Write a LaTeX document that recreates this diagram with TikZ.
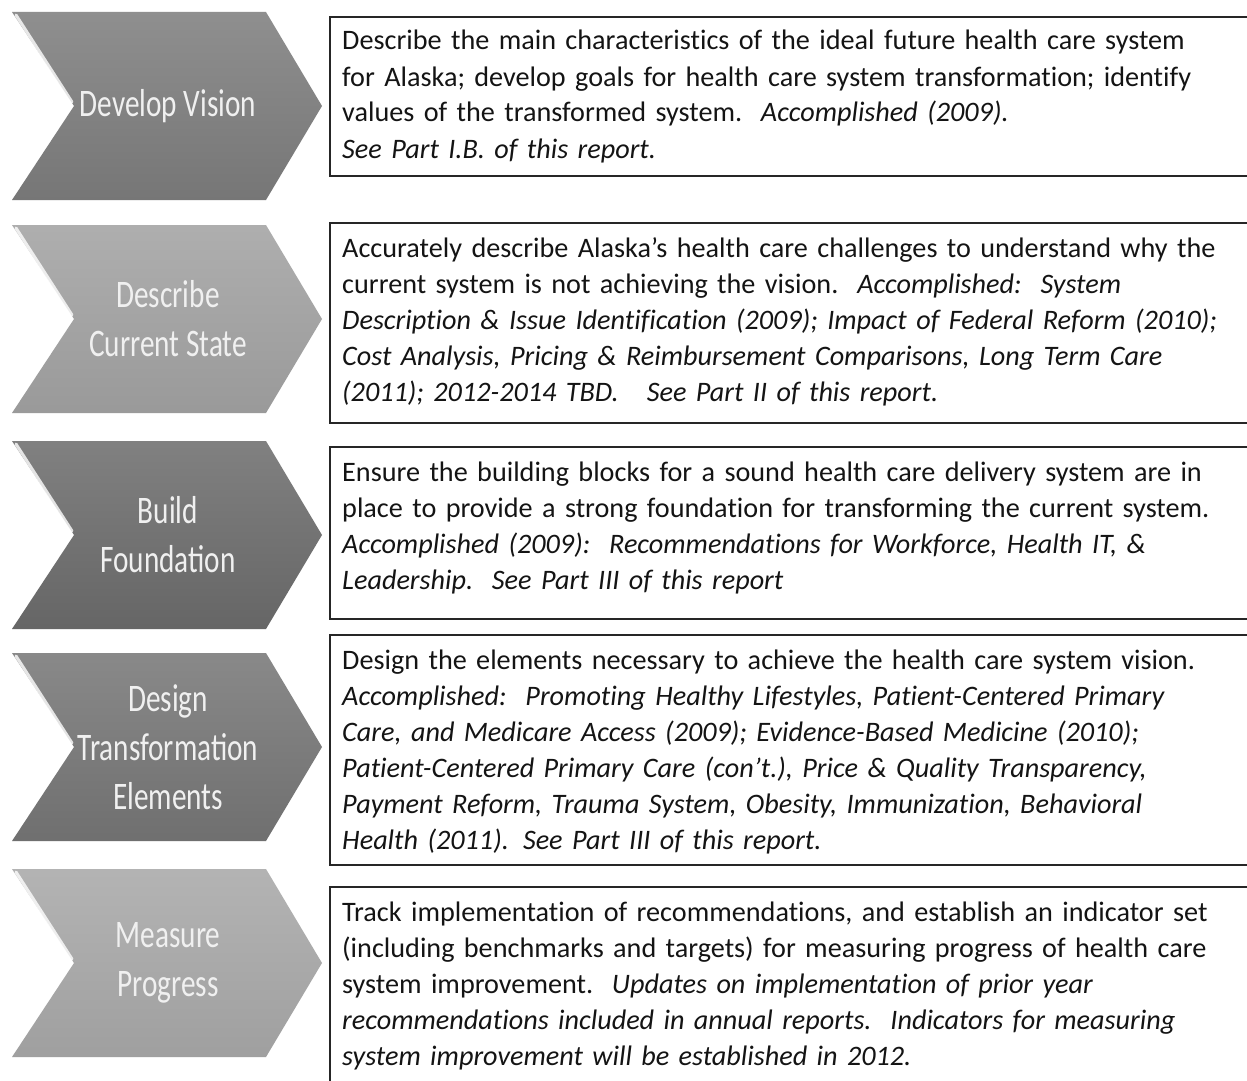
\documentclass[tikz,border=0pt]{standalone}
\usepackage{fontspec}
\setmainfont{Carlito}[Ligatures={NoCommon}]
\newfontfamily\stagefont[FakeStretch=0.75]{Carlito}
\definecolor{stageA}{HTML}{7B7B7B}
\definecolor{stageB}{HTML}{A0A0A0}
\definecolor{stageC}{HTML}{6A6A6A}
\definecolor{stageD}{HTML}{747474}
\definecolor{stageE}{HTML}{A6A6A6}

\begin{document}
\begin{tikzpicture}[x=1pt, y=-1pt,
    stage/.style={top color=#1!85!white, bottom color=#1!96!black},
    bevel/.style={white, opacity=0.8, line width=3pt, line cap=round},
    stagelabel/.style={align=center, text=white!94!black, font=\stagefont\fontsize{39}{49}\selectfont},
    entry/.style={anchor=base west, inner sep=0pt, text width=1000pt, align=left, text=black!92, font=\fontsize{28.2}{36}\selectfont},
    frame/.style={black!85, line width=1.6pt}]
        \useasboundingbox (0,0) rectangle (1247,1081);
        \fill[white] (0,0) rectangle (1247,1081);

        \coordinate (V) at (168,106);
        \coordinate (S) at (168,319);
        \coordinate (F) at (168,535);
        \coordinate (D) at (168,747);
        \coordinate (M) at (168,963);

        \shade[stage=stageA] (12,12) -- (266,12) -- (322,106) -- (266,200) -- (12,200) -- (74,106) -- cycle;
        \shade[stage=stageB] (12,225) -- (266,225) -- (322,319) -- (266,413) -- (12,413) -- (74,319) -- cycle;
        \shade[stage=stageC] (12,441) -- (266,441) -- (322,535) -- (266,629) -- (12,629) -- (74,535) -- cycle;
        \shade[stage=stageD] (12,653) -- (266,653) -- (322,747) -- (266,841) -- (12,841) -- (74,747) -- cycle;
        \shade[stage=stageE] (12,869) -- (266,869) -- (322,963) -- (266,1057) -- (12,1057) -- (74,963) -- cycle;

        \draw[bevel] (16,15) -- (72,102);
        \draw[bevel] (16,228) -- (72,315);
        \draw[bevel] (16,444) -- (72,531);
        \draw[bevel] (16,656) -- (72,743);
        \draw[bevel] (16,872) -- (72,959);

        \node[stagelabel] (vision) at (V) {Develop Vision};
        \node[stagelabel] (state) at (S) {Describe\\Current State};
        \node[stagelabel] (found) at (F) {Build\\Foundation};
        \node[stagelabel] (design) at (D) {Design\\Transformation\\Elements};
        \node[stagelabel] (measure) at (M) {Measure\\Progress};

        \draw[frame] (1248,17) -- (330,17) -- (330,176) -- (1248,176);
        \draw[frame] (1248,223) -- (330,223) -- (330,423) -- (1248,423);
        \draw[frame] (1248,447) -- (330,447) -- (330,619) -- (1248,619);
        \draw[frame] (1248,635) -- (330,635) -- (330,865) -- (1248,865);
        \draw[frame] (1248,887) -- (330,887) -- (330,1082);

        \node[entry] (visiontxt) at (342,50) {Describe the main characteristics of the ideal future health care system\\
            for Alaska; develop goals for health care system transformation; identify\\
            values of the transformed system.\ \ \textit{Accomplished (2009).}\\
            \textit{See Part I.B. of this report.}};
        \node[entry] (statetxt) at (342,257) {Accurately describe Alaska’s health care challenges to understand why the\\
            current system is not achieving the vision.\ \ \textit{Accomplished:\ \ System}\\
            \textit{Description \& Issue Identification (2009); Impact of Federal Reform (2010);}\\
            \textit{Cost Analysis, Pricing \& Reimbursement Comparisons, Long Term Care}\\
            \textit{(2011); 2012-2014 TBD.\ \ \ See Part II of this report.}};
        \node[entry] (foundtxt) at (342,481) {Ensure the building blocks for a sound health care delivery system are in\\
            place to provide a strong foundation for transforming the current system.\\
            \textit{Accomplished (2009):\ \ Recommendations for Workforce, Health IT, \&}\\
            \textit{Leadership.\ \ See Part III of this report}};
        \node[entry] (designtxt) at (342,669) {Design the elements necessary to achieve the health care system vision.\\
            \textit{Accomplished:\ \ Promoting Healthy Lifestyles, Patient-Centered Primary}\\
            \textit{Care, and Medicare Access (2009); Evidence-Based Medicine (2010);}\\
            \textit{Patient-Centered Primary Care (con’t.), Price \& Quality Transparency,}\\
            \textit{Payment Reform, Trauma System, Obesity, Immunization, Behavioral}\\
            \textit{Health (2011). See Part III of this report.}};
        \node[entry] (measuretxt) at (342,921) {Track implementation of recommendations, and establish an indicator set\\
            (including benchmarks and targets) for measuring progress of health care\\
            system improvement.\ \ \textit{Updates on implementation of prior year}\\
            \textit{recommendations included in annual reports.\ \ Indicators for measuring}\\
            \textit{system improvement will be established in 2012.}};
    \end{tikzpicture}
\end{document}
